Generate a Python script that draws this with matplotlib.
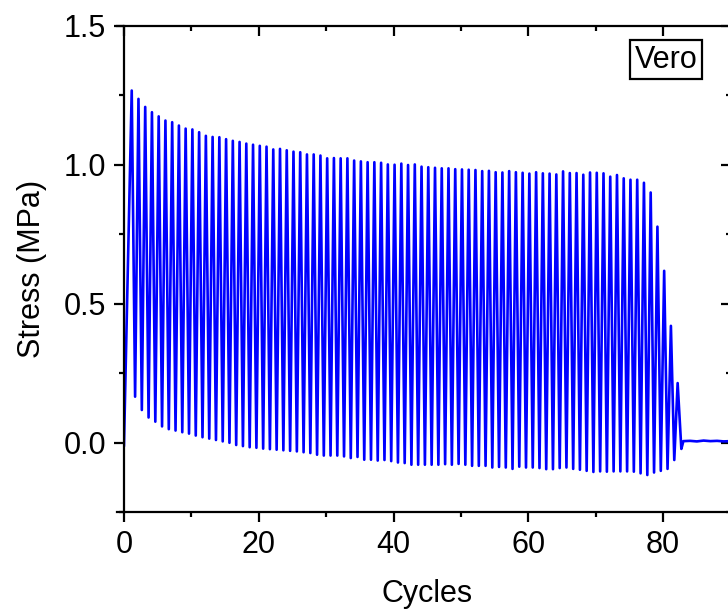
import numpy as np
import matplotlib
matplotlib.use("Agg")
import matplotlib.pyplot as plt
from matplotlib.ticker import MultipleLocator, FormatStrFormatter

plt.rcParams["font.family"] = ["Liberation Sans", "DejaVu Sans"]

# Peak stress of each loading cycle (MPa), cycles 1..82
peak_stress = [
    1.267, 1.237, 1.208, 1.189, 1.174, 1.159, 1.153, 1.141, 1.130, 1.127,
    1.117, 1.104, 1.100, 1.099, 1.092, 1.086, 1.082, 1.076, 1.072, 1.068,
    1.065, 1.055, 1.057, 1.052, 1.047, 1.045, 1.037, 1.037, 1.033, 1.023,
    1.024, 1.023, 1.023, 1.015, 1.012, 1.009, 1.009, 1.007, 1.001, 1.000,
    1.004, 0.999, 1.001, 0.993, 0.991, 0.989, 0.987, 0.987, 0.984, 0.983,
    0.982, 0.981, 0.977, 0.978, 0.973, 0.972, 0.977, 0.973, 0.971, 0.968,
    0.973, 0.969, 0.968, 0.965, 0.976, 0.970, 0.970, 0.964, 0.972, 0.971,
    0.969, 0.957, 0.963, 0.951, 0.946, 0.946, 0.935, 0.900, 0.777, 0.618,
    0.420, 0.214,
]

# Minimum stress after each peak (MPa), cycles 1..81
trough_stress = [
    0.165, 0.117, 0.090, 0.075, 0.058, 0.048, 0.043, 0.037, 0.032, 0.025,
    0.019, 0.014, 0.009, 0.004, -0.001, -0.009, -0.013, -0.017, -0.019, -0.022,
    -0.024, -0.026, -0.028, -0.030, -0.032, -0.035, -0.038, -0.044, -0.047, -0.047,
    -0.047, -0.050, -0.056, -0.052, -0.062, -0.062, -0.065, -0.063, -0.067, -0.072,
    -0.074, -0.080, -0.080, -0.080, -0.080, -0.080, -0.078, -0.080, -0.077, -0.080,
    -0.084, -0.084, -0.084, -0.090, -0.088, -0.090, -0.095, -0.087, -0.090, -0.090,
    -0.092, -0.096, -0.096, -0.092, -0.090, -0.095, -0.098, -0.102, -0.106, -0.104,
    -0.105, -0.104, -0.104, -0.104, -0.105, -0.111, -0.117, -0.108, -0.102, -0.095,
    -0.063,
]

# Start of the test and the flat record after failure
start_cycle, start_stress = 0.0, -0.01
tail_cycles = [82.7, 83.0, 84.0, 85.0, 86.0, 87.0, 88.0, 89.0, 90.0]
tail_stress = [-0.023, 0.005, 0.006, 0.004, 0.007, 0.005, 0.006, 0.004, 0.005]

# peaks sit a little after each whole cycle, troughs half a cycle later
n_cycle = np.arange(1, len(peak_stress) + 1)
peak_x = n_cycle + 0.15
trough_x = n_cycle[:len(trough_stress)] + 0.65

x = [start_cycle]
y = [start_stress]
for i in range(len(peak_stress)):
    x.append(peak_x[i]); y.append(peak_stress[i])
    if i < len(trough_stress):
        x.append(trough_x[i]); y.append(trough_stress[i])
x += tail_cycles
y += tail_stress

fig = plt.figure(figsize=(7.28, 6.10), dpi=100)
ax = fig.add_axes([0.1703, 0.1607, 0.8332, 0.797])

ax.plot(x, y, color="#0000FF", linewidth=1.9)

ax.set_xlim(0, 90)
ax.set_ylim(-0.25, 1.5)
ax.xaxis.set_major_locator(MultipleLocator(20))
ax.xaxis.set_minor_locator(MultipleLocator(10))
ax.yaxis.set_major_locator(MultipleLocator(0.5))
ax.yaxis.set_minor_locator(MultipleLocator(0.25))
ax.yaxis.set_major_formatter(FormatStrFormatter("%.1f"))

for s in ax.spines.values():
    s.set_linewidth(1.6)
ax.spines["bottom"].set_bounds(-1.0, 90)
ax.spines["top"].set_bounds(-1.0, 90)

ax.tick_params(which="major", direction="out", length=7, width=1.6,
               labelsize=22, pad=6)
ax.tick_params(which="minor", direction="out", length=3.5, width=1.6)

# mirrored ticks on top and right, pointing inward
top = ax.secondary_xaxis("top")
top.xaxis.set_major_locator(MultipleLocator(20))
top.xaxis.set_minor_locator(MultipleLocator(10))
top.tick_params(which="major", direction="in", length=7, width=1.6, labeltop=False)
top.tick_params(which="minor", direction="in", length=3.5, width=1.6)
top.spines["top"].set_visible(False)
right = ax.secondary_yaxis("right")
right.yaxis.set_major_locator(MultipleLocator(0.5))
right.yaxis.set_minor_locator(MultipleLocator(0.25))
right.tick_params(which="major", direction="in", length=7, width=1.6, labelright=False)
right.tick_params(which="minor", direction="in", length=3.5, width=1.6)
right.spines["right"].set_visible(False)

ax.set_xlabel("Cycles", fontsize=22, labelpad=14)
ax.set_ylabel("Stress (MPa)", fontsize=22, labelpad=12)

ax.text(0.8935, 0.93, "Vero", transform=ax.transAxes, fontsize=22,
        ha="center", va="center",
        bbox=dict(boxstyle="square,pad=0.15", facecolor="white",
                  edgecolor="black", linewidth=1.6))

plt.savefig("out.png", dpi=100)
